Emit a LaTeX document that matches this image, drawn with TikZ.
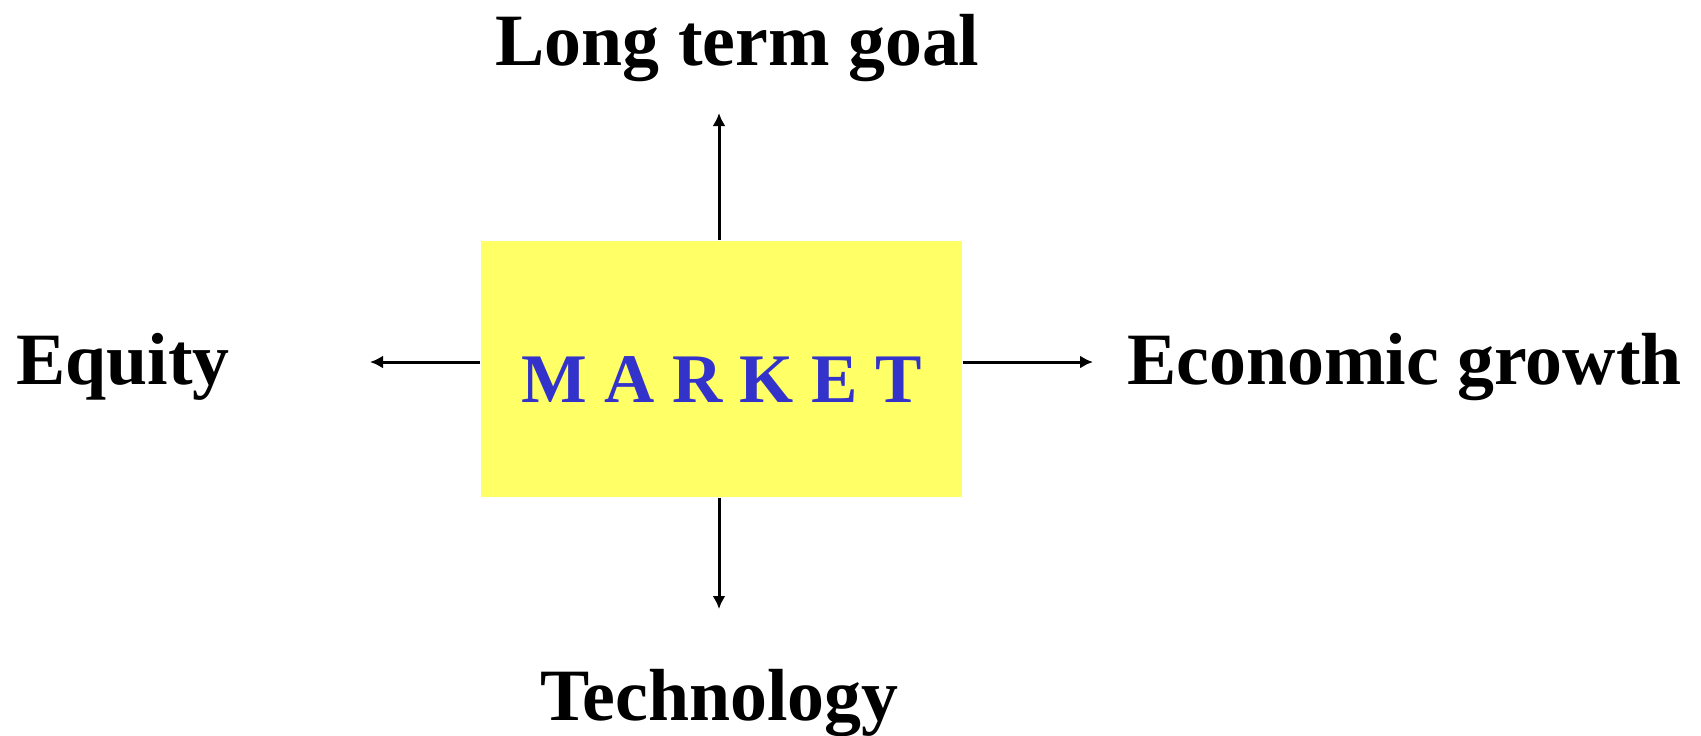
\documentclass[tikz,border=0pt]{standalone}
\usepackage{fontspec}
\setmainfont{Liberation Serif}
\usetikzlibrary{arrows.meta}
\definecolor{boxyellow}{RGB}{255,255,102}
\definecolor{marketblue}{RGB}{51,51,204}

\begin{document}
\begin{tikzpicture}[
        label/.style={anchor=base,inner sep=0pt,font=\fontsize{21}{25}\selectfont\bfseries},
        goal/.style={line width=0.85pt,-{Latex[length=0.13cm,width=0.13cm]}}
    ]
        \useasboundingbox (0,0) rectangle (17.01,-7.35);
        \node[fill=boxyellow,minimum width=4.81cm,minimum height=2.56cm,inner sep=0pt,
            text height=0.66cm,text depth=0pt,text=marketblue,
            font=\fontsize{19.8}{24}\selectfont\bfseries] (market) at (7.215,-3.69) {M A R K E T};
        \node[label] (longterm) at (7.375,-0.65) {Long term goal};
        \node[label] (equity) at (1.23,-3.84) {Equity};
        \node[label] (growth) at (14.045,-3.84) {Economic growth};
        \node[label] (technology) at (7.195,-7.20) {Technology};
        \coordinate (uptip) at (7.19,-1.13);
        \coordinate (downtip) at (7.19,-6.09);
        \coordinate (lefttip) at (3.70,-3.62);
        \coordinate (righttip) at (10.93,-3.62);
        \draw[goal] (uptip |- market.north) -- (uptip);
        \draw[goal] (downtip |- market.south) -- (downtip);
        \draw[goal] (market.west |- lefttip) -- (lefttip);
        \draw[goal] (market.east |- righttip) -- (righttip);
    \end{tikzpicture}
\end{document}
